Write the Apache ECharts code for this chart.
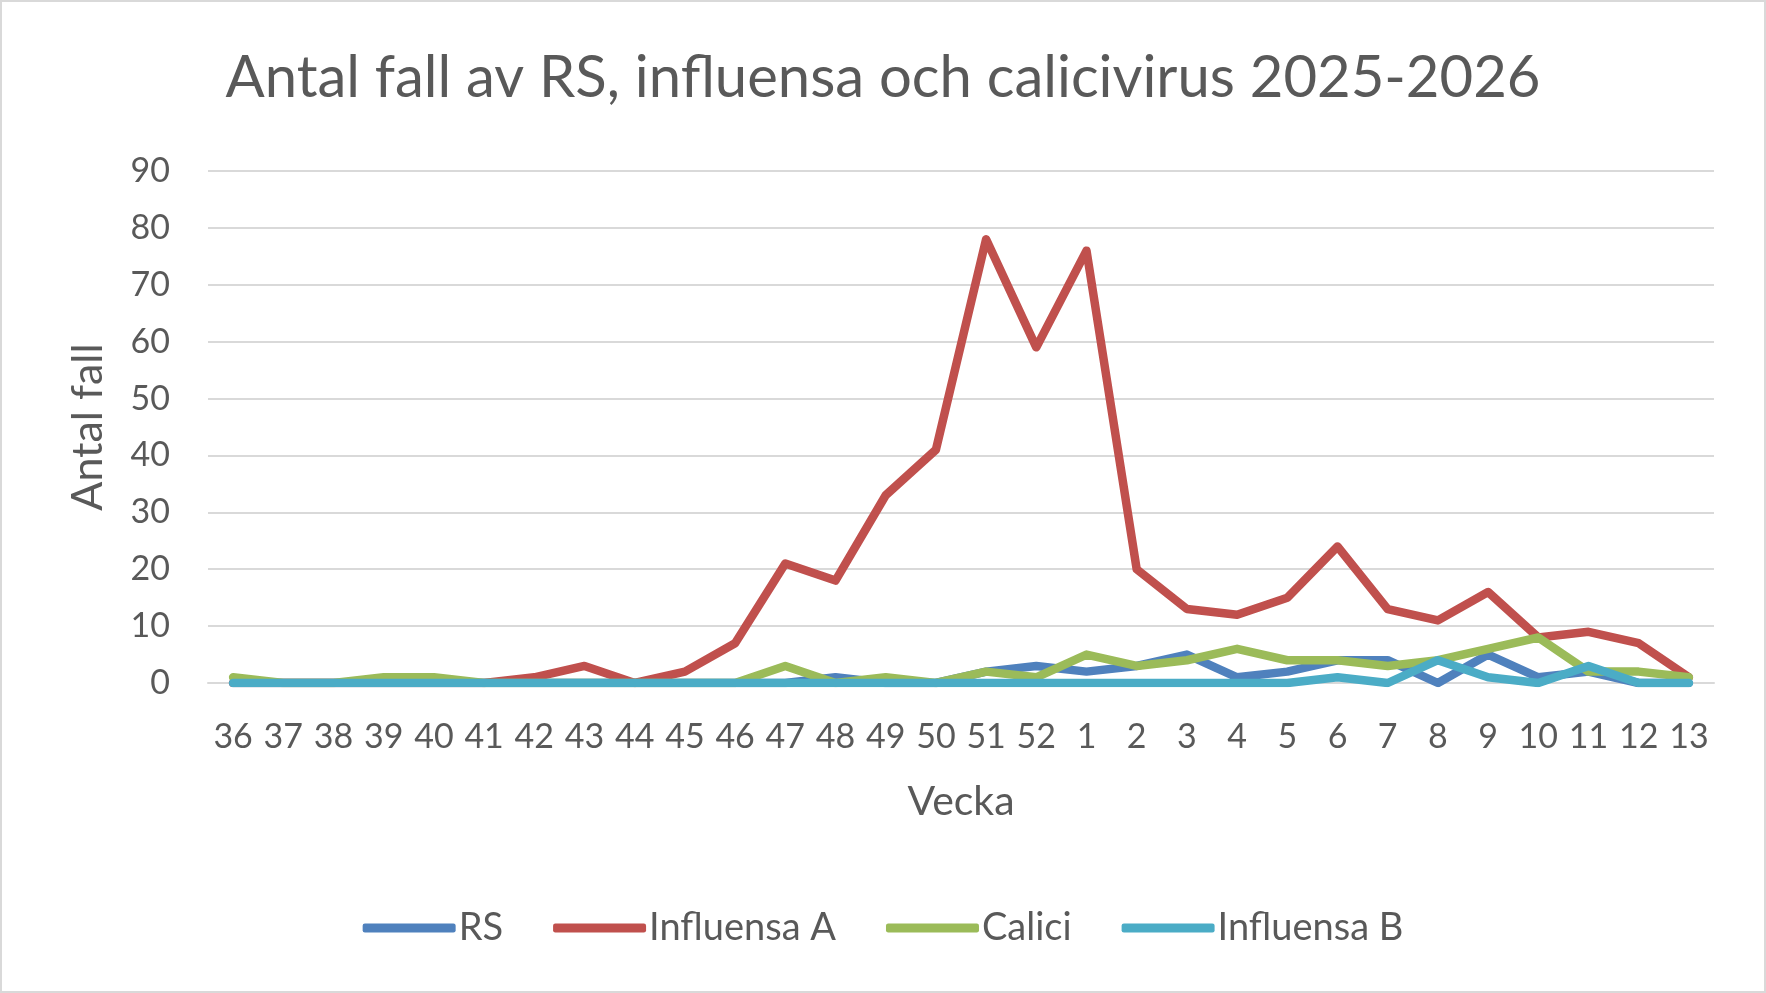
<!DOCTYPE html>
<html>
<head>
<meta charset="utf-8">
<script src="https://cdn.jsdelivr.net/npm/echarts@6/dist/echarts.min.js"></script>
<style>
  html, body { margin: 0; padding: 0; background: #fff; }
  #chart { width: 1766px; height: 993px; box-sizing: border-box; border: 2px solid #d9d9d9; }
</style>
</head>
<body>
<div id="chart"></div>
<script>
const weeks = ['36','37','38','39','40','41','42','43','44','45','46','47','48','49','50','51','52','1','2','3','4','5','6','7','8','9','10','11','12','13'];
const rs =         [0,0,0,0,0,0,0,0,0,0,0,0,1,0,0,2,3,2,3,5,1,2,4,4,0,5,1,2,0,0];
const influensaA = [0,0,0,0,0,0,1,3,0,2,7,21,18,33,41,78,59,76,20,13,12,15,24,13,11,16,8,9,7,1];
const calici =     [1,0,0,1,1,0,0,0,0,0,0,3,0,1,0,2,1,5,3,4,6,4,4,3,4,6,8,2,2,1];
const influensaB = [0,0,0,0,0,0,0,0,0,0,0,0,0,0,0,0,0,0,0,0,0,0,1,0,4,1,0,3,0,0];
const yTicks = { min: 0, max: 90, interval: 10 };

const seriesNames = ['RS', 'Influensa A', 'Calici', 'Influensa B'];
const seriesData = [rs, influensaA, calici, influensaB];
const colors = ['#4F81BD', '#C0504D', '#9BBB59', '#4BACC6'];
const FONT = 'Lato';
const TXT = '#595959';

const chart = echarts.init(document.getElementById('chart'), null, { renderer: 'canvas' });
chart.setOption({
  animation: false,
  color: colors,
  title: {
    text: 'Antal fall av RS, influensa och calicivirus 2025-2026',
    left: 'center',
    top: 42,
    textStyle: { fontFamily: FONT, fontSize: 58, fontWeight: 'normal', color: TXT }
  },
  grid: { left: 206, right: 50, top: 169, bottom: 308 },
  legend: {
    data: seriesNames.map(n => ({ name: n, icon: 'roundRect' })),
    left: 'center',
    top: 902,
    itemWidth: 93,
    itemHeight: 9,
    itemGap: 50,
    textStyle: { fontFamily: FONT, fontSize: 38, color: TXT, padding: [0, 0, 0, -2] }
  },
  xAxis: {
    type: 'category',
    data: weeks,
    boundaryGap: true,
    name: 'Vecka',
    nameLocation: 'middle',
    nameGap: 98,
    nameTextStyle: { fontFamily: FONT, fontSize: 41, color: TXT },
    axisLine: { show: true, lineStyle: { color: '#d9d9d9', width: 2 } },
    axisTick: { show: false },
    axisLabel: { interval: 0, margin: 37, fontFamily: FONT, fontSize: 34, color: TXT }
  },
  yAxis: {
    type: 'value',
    min: yTicks.min,
    max: yTicks.max,
    interval: yTicks.interval,
    name: 'Antal fall',
    nameLocation: 'middle',
    nameGap: 98,
    nameTextStyle: { fontFamily: FONT, fontSize: 43, color: TXT },
    axisLine: { show: false },
    axisTick: { show: false },
    axisLabel: { margin: 38, fontFamily: FONT, fontSize: 34, color: TXT },
    splitLine: { lineStyle: { color: '#d9d9d9', width: 2 } }
  },
  series: seriesNames.map((name, i) => ({
    name: name,
    type: 'line',
    data: seriesData[i],
    symbol: 'none',
    showSymbol: false,
    lineStyle: { width: 8.5, color: colors[i], cap: 'round', join: 'round' },
    itemStyle: { color: colors[i] },
    z: 2 + i
  }))
});
</script>
</body>
</html>
